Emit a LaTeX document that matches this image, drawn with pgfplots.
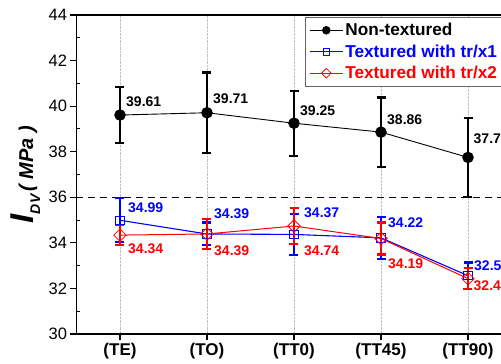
\documentclass[border=0pt]{standalone}
\usepackage{pgfplots}
\pgfplotsset{compat=1.18}
\usepackage{fontspec}
\setmainfont{Liberation Sans}
\definecolor{myblue}{RGB}{0,0,255}
\definecolor{myred}{RGB}{255,0,0}
\begin{document}
\begin{tikzpicture}
\useasboundingbox (-76.5pt,-30pt) rectangle (424.5pt,334pt);
\clip (-76.5pt,-30pt) rectangle (424.5pt,334pt);
\begin{axis}[
  at={(0pt,0pt)}, anchor=south west,
  scale only axis, width=435pt, height=319pt,
  xmin=0.5, xmax=5.5, ymin=30, ymax=44,
  xtick={1,2,3,4,5}, xticklabels={(TE),(TO),(TT0),(TT45),(TT90)},
  ytick={30,32,...,44}, minor y tick num=1,
  xtick pos=bottom, ytick pos=left,
  tick align=outside, major tick length=6pt, minor tick length=4pt,
  tick style={line width=1.1pt, black},
  minor tick style={xshift=4pt},
  xmajorgrids, grid style={densely dotted, black!25, line width=0.6pt},
  axis line style={line width=1.2pt},
  x tick label style={font=\fontsize{17}{17}\selectfont\bfseries},
  y tick label style={font=\fontsize{16.5}{16.5}\selectfont},
  /pgf/number format/assume math mode=true,
  ylabel={\bfseries\itshape\fontsize{33}{33}\selectfont I\raisebox{-7pt}{\fontsize{14}{14}\selectfont DV}\fontsize{20}{20}\selectfont\,( MPa )},
  every axis y label/.style={at={(axis description cs:-0.118,0.5)}, rotate=90, anchor=center},
  legend style={at={(0.525,0.994)}, anchor=north west, draw=black!60, line width=0.8pt,
    fill=white, font=\fontsize{17.2}{20}\selectfont\bfseries, inner xsep=4pt, inner ysep=4pt,
    row sep=3.5pt, /tikz/every even column/.append style={column sep=2pt}},
  legend cell align=left,
  legend image code/.code={\draw[mark repeat=2,mark phase=2,#1] plot coordinates {(0pt,0pt) (16.5pt,0pt) (33pt,0pt)};},
]
% dashed reference
\addplot[black, line width=1.4pt, dash pattern=on 7pt off 5pt, forget plot] coordinates {(0.5,36) (5.5,36)};

% Non-textured
\addplot[black, line width=0.9pt, mark=*, mark size=5.3pt, mark options={solid, fill=black},
  legend image post style={mark size=3.8pt},
  error bars/.cd, y dir=both, y explicit,
  error bar style={line width=2.2pt, black},
  error mark options={rotate=90, mark size=4.5pt, line width=2.2pt, black}]
coordinates {
 (1,39.61) +- (0,1.24)
 (2,39.71) +- (0,1.77)
 (3,39.25) +- (0,1.43)
 (4,38.86) +- (0,1.52)
 (5,37.75) +- (0,1.72)
};
\addlegendentry{Non-textured}

% Textured tr/x1
\addplot[myblue, line width=1.1pt, mark=square, mark size=4.2pt, mark options={solid, fill=white, line width=0.8pt},
  legend image post style={mark size=3.2pt},
  error bars/.cd, y dir=both, y explicit,
  error bar style={line width=2.2pt, myblue},
  error mark options={rotate=90, mark size=4.5pt, line width=2.2pt, myblue}]
coordinates {
 (1,34.99) +- (0,0.97)
 (2,34.39) +- (0,0.50)
 (3,34.37) +- (0,0.90)
 (4,34.22) +- (0,0.93)
 (5,32.56) +- (0,0.58)
};
\addlegendentry{\textcolor{myblue}{Textured with tr/x1}\hspace*{14pt}}

% Textured tr/x2
\addplot[myred, line width=1.0pt, mark=square, mark size=4.4pt, mark options={solid, fill=white, line width=0.8pt, rotate=45},
  legend image post style={mark size=3.4pt},
  error bars/.cd, y dir=both, y explicit,
  error bar style={line width=2.2pt, myred},
  error mark options={rotate=90, mark size=4.5pt, line width=2.2pt, myred}]
coordinates {
 (1,34.34) +- (0,0.43)
 (2,34.39) +- (0,0.65)
 (3,34.74) +- (0,0.80)
 (4,34.19) +- (0,0.70)
 (5,32.43) +- (0,0.47)
};
\addlegendentry{\textcolor{myred}{Textured with tr/x2}}

% value labels
\tikzset{vl/.style={anchor=west, font=\fontsize{14}{14}\selectfont\bfseries, inner sep=0pt}}
\node[vl, black] at (axis cs:1,39.61) [xshift=6pt, yshift=13pt] {39.61};
\node[vl, black] at (axis cs:2,39.71) [xshift=6pt, yshift=14pt] {39.71};
\node[vl, black] at (axis cs:3,39.25) [xshift=6pt, yshift=13pt] {39.25};
\node[vl, black] at (axis cs:4,38.86) [xshift=6pt, yshift=12pt] {38.86};
\node[vl, black] at (axis cs:5,37.75) [xshift=5.5pt, yshift=19pt] {37.7};

\node[vl, myblue] at (axis cs:1,34.99) [xshift=8pt, yshift=13pt] {34.99};
\node[vl, myblue] at (axis cs:2,34.39) [xshift=7pt, yshift=20pt] {34.39};
\node[vl, myblue] at (axis cs:3,34.37) [xshift=10pt, yshift=22pt] {34.37};
\node[vl, myblue] at (axis cs:4,34.22) [xshift=7pt, yshift=15pt] {34.22};
\node[vl, myblue] at (axis cs:5,32.56) [xshift=6pt, yshift=10pt] {32.5};

\node[vl, myred] at (axis cs:1,34.34) [xshift=8pt, yshift=-14pt] {34.34};
\node[vl, myred] at (axis cs:2,34.39) [xshift=7pt, yshift=-17pt] {34.39};
\node[vl, myred] at (axis cs:3,34.74) [xshift=10pt, yshift=-25pt] {34.74};
\node[vl, myred] at (axis cs:4,34.19) [xshift=7pt, yshift=-25pt] {34.19};
\node[vl, myred] at (axis cs:5,32.43) [xshift=5.5pt, yshift=-7pt] {32.4};
\end{axis}
\end{tikzpicture}
\end{document}
